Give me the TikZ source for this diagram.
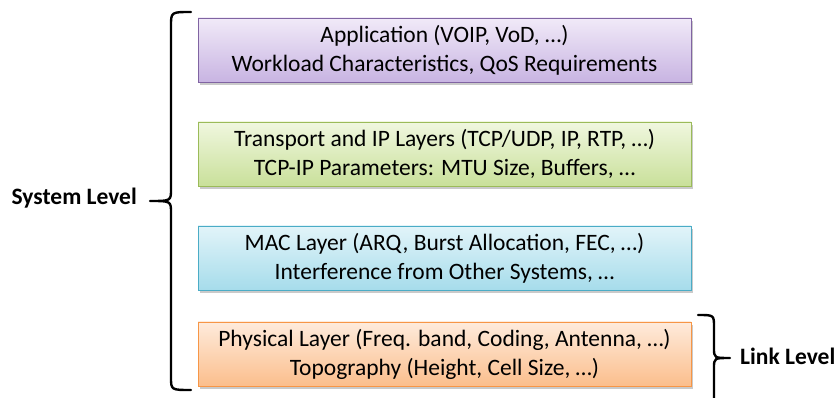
\documentclass[tikz,border=0pt]{standalone}
\usepackage{fontspec}
\setmainfont{Carlito}
\usetikzlibrary{shadows}
\definecolor{purB}{HTML}{8064A2}\definecolor{purT}{HTML}{F1EAF8}\definecolor{purD}{HTML}{C8B4E2}
\definecolor{grnB}{HTML}{9BBB59}\definecolor{grnT}{HTML}{F0F7DF}\definecolor{grnD}{HTML}{C9E09A}
\definecolor{bluB}{HTML}{4BACC6}\definecolor{bluT}{HTML}{E2F4F9}\definecolor{bluD}{HTML}{A6DCEB}
\definecolor{orgB}{HTML}{F79646}\definecolor{orgT}{HTML}{FEEBDC}\definecolor{orgD}{HTML}{FBBE8C}
\tikzset{
  layer/.style={draw=#1B, line width=0.8pt, top color=#1T, bottom color=#1D,
    minimum width=493pt, minimum height=64pt, align=center, inner sep=0pt,
    font=\fontsize{23.5}{29}\selectfont,
    drop shadow={shadow xshift=2pt, shadow yshift=-3pt, opacity=0.35, fill=black!60}},
  lvl/.style={font=\fontsize{23.5}{28}\selectfont\bfseries, inner sep=0pt},
  brace/.style={line width=2.4pt, line join=round, line cap=round}
}
\begin{document}
\begin{tikzpicture}[x=1pt,y=-1pt]
\useasboundingbox (0,0) rectangle (836,398);
\clip (0,0) rectangle (836,398);
\node[layer=pur] (app) at (444.5,50) {Application (VOIP, VoD, \dots)\\Workload Characteristics, QoS Requirements};
\node[layer=grn] (tra) at (444.5,154) {Transport and IP Layers (TCP/UDP, IP, RTP, \dots)\\TCP-IP Parameters: MTU Size, Buffers, \dots};
\node[layer=blu] (mac) at (444.5,258) {MAC Layer (ARQ, Burst Allocation, FEC, \dots)\\Interference from Other Systems, \dots};
\node[layer=org] (phy) at (444.5,354) {Physical Layer (Freq. band, Coding, Antenna, \dots)\\Topography (Height, Cell Size, \dots)};
\coordinate (sysTip) at (150,201);
\coordinate (linkTip) at (730,358);
\node[lvl, anchor=east] (sys) at (137,198) {System Level};
\node[lvl, anchor=west] (lnk) at (740,356) {Link Level};
\draw[brace] (191,12) .. controls (171,12) .. (171,26) -- (171,189) .. controls (171,201) .. (sysTip)
  .. controls (171,201) .. (171,213) -- (171,377) .. controls (171,390) .. (191,390);
\draw[brace] (698,315) .. controls (714,315) .. (714,327) -- (714,348) .. controls (714,358) .. (linkTip)
  .. controls (714,358) .. (714,368) -- (714,402);
\end{tikzpicture}
\end{document}
